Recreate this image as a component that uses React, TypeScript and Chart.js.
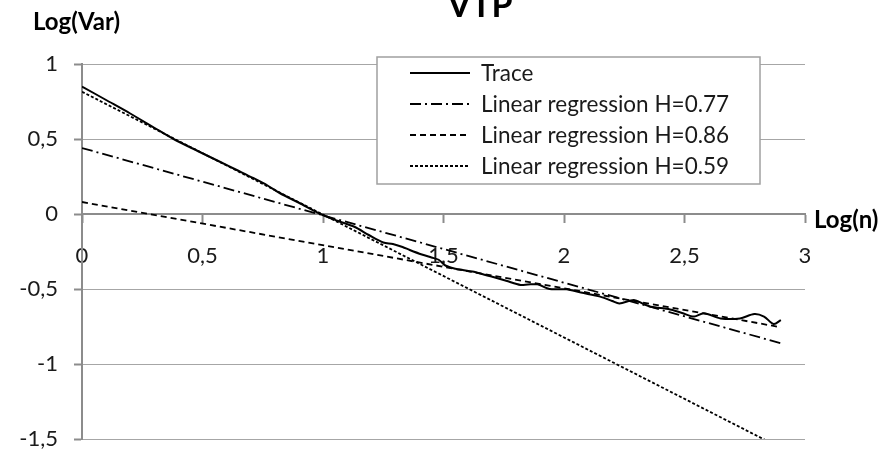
import React, { useEffect, useRef } from "react";
import { Chart, registerables } from "chart.js";

Chart.register(...registerables);

// Log(n) / Log(Var) pairs of the measured trace
const traceX = [
  0, 0.1, 0.2, 0.3, 0.38, 0.48, 0.57, 0.64, 0.71, 0.77, 0.82, 0.9, 0.99, 1.06, 1.13, 1.19,
  1.25, 1.29, 1.33, 1.36, 1.41, 1.45, 1.48, 1.51, 1.55, 1.58, 1.62, 1.66, 1.71, 1.76, 1.82,
  1.85, 1.89, 1.94, 2.01, 2.07, 2.15, 2.2, 2.23, 2.29, 2.33, 2.36, 2.44, 2.49, 2.54, 2.58,
  2.65, 2.73, 2.79, 2.83, 2.87, 2.9,
];
const traceY = [
  0.85, 0.76, 0.67, 0.575, 0.5, 0.42, 0.35, 0.295, 0.24, 0.19, 0.14, 0.075, 0.0, -0.045,
  -0.085, -0.14, -0.19, -0.2, -0.22, -0.24, -0.27, -0.29, -0.305, -0.345, -0.365, -0.373,
  -0.384, -0.4, -0.422, -0.445, -0.473, -0.47, -0.469, -0.5, -0.502, -0.524, -0.551, -0.58,
  -0.596, -0.573, -0.6, -0.618, -0.636, -0.66, -0.684, -0.662, -0.696, -0.696, -0.667,
  -0.684, -0.733, -0.707,
];

// Regression lines: endpoints over the fitted range
const fitX = [0, 2.9];
const fitH077 = [0.44, -0.862];
const fitH086 = [0.08, -0.755];
const fitH059 = [0.815, -1.56];

const seriesLabels = [
  "Trace",
  "Linear regression H=0.77",
  "Linear regression H=0.86",
  "Linear regression H=0.59",
];

const xTicks = [0, 0.5, 1, 1.5, 2, 2.5, 3];
const yTicks = [1, 0.5, 0, -0.5, -1, -1.5];

const chartTitle = "VTP";
const yAxisTitle = "Log(Var)";
const xAxisTitle = "Log(n)";

const FONT = "Lato, 'Open Sans', sans-serif";

const pts = (xs: number[], ys: number[]) => xs.map((x, i) => ({ x, y: ys[i] }));
const fmt = (v: number) => String(v).replace(".", ",");

// Titles and boxed legend painted on top of the plot
const overlayPlugin = {
  id: "overlay",
  afterDatasetsDraw(chart: any) {
    const ctx = chart.ctx as CanvasRenderingContext2D;
    ctx.save();
    ctx.fillStyle = "#000";
    ctx.textBaseline = "alphabetic";
    ctx.font = `bold 34px ${FONT}`;
    ctx.textAlign = "center";
    ctx.fillText(chartTitle, 480, 17);

    ctx.font = `bold 24px ${FONT}`;
    ctx.textAlign = "left";
    ctx.fillText(yAxisTitle, 33, 30);
    ctx.fillText(xAxisTitle, 814, 228);

    // legend box
    const bx = 377, by = 57, bw = 383, bh = 127;
    ctx.fillStyle = "#fff";
    ctx.fillRect(bx, by, bw, bh);
    ctx.strokeStyle = "#a0a0a0";
    ctx.lineWidth = 1.5;
    ctx.strokeRect(bx, by, bw, bh);

    const rows = [73, 104, 135, 166];
    chart.data.datasets.forEach((ds: any, i: number) => {
      const y = rows[i];
      ctx.strokeStyle = ds.borderColor;
      ctx.lineWidth = ds.borderWidth;
      ctx.setLineDash(ds.borderDash || []);
      ctx.beginPath();
      ctx.moveTo(410, y);
      ctx.lineTo(470, y);
      ctx.stroke();
      ctx.setLineDash([]);
      ctx.fillStyle = "#1a1a1a";
      ctx.font = `22.5px ${FONT}`;
      ctx.textBaseline = "middle";
      ctx.fillText(ds.label, 481, y + 1);
    });
    ctx.restore();
  },
};

export default function App() {
  const ref = useRef<HTMLCanvasElement>(null);

  useEffect(() => {
    if (!ref.current) return;
    const chart = new Chart(ref.current, {
      type: "scatter",
      data: {
        datasets: [
          {
            label: seriesLabels[0],
            data: pts(traceX, traceY),
            showLine: true,
            borderColor: "#000",
            borderWidth: 2,
            pointRadius: 0,
            tension: 0.3,
          },
          {
            label: seriesLabels[1],
            data: pts(fitX, fitH077),
            showLine: true,
            borderColor: "#000",
            borderWidth: 1.8,
            borderDash: [11, 4, 2, 4],
            pointRadius: 0,
          },
          {
            label: seriesLabels[2],
            data: pts(fitX, fitH086),
            showLine: true,
            borderColor: "#000",
            borderWidth: 1.8,
            borderDash: [6, 4],
            pointRadius: 0,
          },
          {
            label: seriesLabels[3],
            data: pts(fitX, fitH059),
            showLine: true,
            borderColor: "#000",
            borderWidth: 1.8,
            borderDash: [3, 2],
            pointRadius: 0,
          },
        ] as any,
      },
      options: {
        animation: false,
        responsive: false,
        events: [],
        layout: { padding: { left: 0, top: 64, right: 85, bottom: 16 } },
        plugins: {
          legend: { display: false },
          title: { display: false },
          tooltip: { enabled: false },
        },
        scales: {
          x: {
            type: "linear",
            position: { y: 0 } as any,
            min: 0,
            max: 3,
            afterBuildTicks: (s: any) => {
              s.ticks = xTicks.map((v) => ({ value: v }));
            },
            ticks: {
              callback: (v: any) => fmt(Number(v)),
              font: { family: FONT, size: 22 },
              color: "#1a1a1a",
              padding: 21,
              maxRotation: 0,
            },
            grid: {
              drawOnChartArea: false,
              drawTicks: true,
              tickLength: 8,
              tickColor: "#8c8c8c",
              tickWidth: 2,
            },
            border: { display: true, color: "#8c8c8c", width: 2 },
          },
          y: {
            type: "linear",
            position: "left",
            min: -1.5,
            max: 1,
            afterFit: (s: any) => {
              s.width = 82;
              s.paddingTop = 0;
              s.paddingBottom = 0;
            },
            afterBuildTicks: (s: any) => {
              s.ticks = yTicks.map((v) => ({ value: v }));
            },
            ticks: {
              callback: (v: any) => fmt(Number(v)),
              font: { family: FONT, size: 22 },
              color: "#1a1a1a",
              padding: 16,
            },
            grid: {
              color: "#a6a6a6",
              lineWidth: 1,
              borderDash: [2, 1],
              tickBorderDash: [10, 0],
              tickLength: 8,
              tickColor: "#8c8c8c",
              tickWidth: 2,
            },
            border: { display: true, color: "#8c8c8c", width: 2 },
          },
        },
      },
      plugins: [overlayPlugin],
    });
    return () => chart.destroy();
  }, []);

  return (
    <div style={{ position: "fixed", left: 0, top: 0, width: 890, height: 455, background: "#fff" }}>
      <canvas ref={ref} width={890} height={455} style={{ width: 890, height: 455 }} />
    </div>
  );
}
